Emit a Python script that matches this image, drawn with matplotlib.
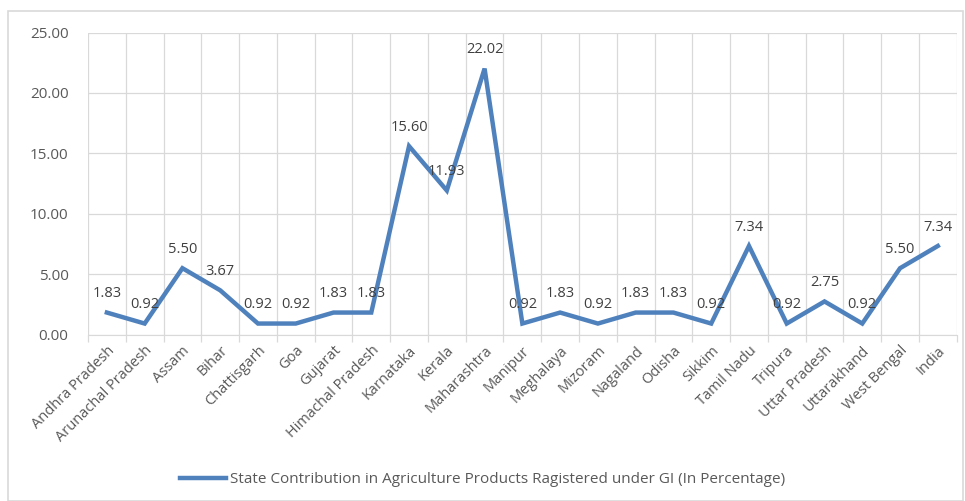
import matplotlib.pyplot as plt
from matplotlib.patches import Rectangle

states = ["Andhra Pradesh", "Arunachal Pradesh", "Assam", "Bihar", "Chattisgarh",
          "Goa", "Gujarat", "Himachal Pradesh", "Karnataka", "Kerala",
          "Maharashtra", "Manipur", "Meghalaya", "Mizoram", "Nagaland",
          "Odisha", "Sikkim", "Tamil Nadu", "Tripura", "Uttar Pradesh",
          "Uttarakhand", "West Bengal", "India"]
share = [1.83, 0.92, 5.50, 3.67, 0.92, 0.92, 1.83, 1.83, 15.60, 11.93,
         22.02, 0.92, 1.83, 0.92, 1.83, 1.83, 0.92, 7.34, 0.92, 2.75,
         0.92, 5.50, 7.34]
series_name = "State Contribution in Agriculture Products Ragistered under GI (In Percentage)"

plt.rcParams["font.family"] = ["Open Sans", "DejaVu Sans"]

fig = plt.figure(figsize=(9.65, 5.01), dpi=100)
ax = fig.add_axes([0.0912, 0.332, 0.9002, 0.603])

# chart border
fig.patches.append(Rectangle((8 / 965, 0.0), 955 / 965, 1 - 11 / 501,
                             transform=fig.transFigure, fill=False,
                             edgecolor="#d9d9d9", linewidth=1.2))

line_color = "#4f81bd"
x = list(range(len(states)))
ax.plot(x, share, color=line_color, linewidth=3.2, solid_joinstyle="miter",
        label=series_name)

for xi, v in zip(x, share):
    ax.annotate(f"{v:.2f}", (xi, v), xytext=(0, 8), textcoords="offset points",
                ha="center", va="bottom", fontsize=10.5, color="#404040")

ax.set_xlim(-0.5, len(states) - 0.5)
ax.set_ylim(0, 25)
ax.set_yticks([0, 5, 10, 15, 20, 25])
ax.set_yticklabels([f"{t:.2f}" for t in [0, 5, 10, 15, 20, 25]])

# gridlines at category boundaries
bounds = [i - 0.5 for i in range(len(states) + 1)]
for b in bounds:
    ax.axvline(b, color="#d9d9d9", linewidth=0.9, zorder=0)
ax.grid(axis="y", color="#d9d9d9", linewidth=0.9, zorder=0)
ax.set_axisbelow(True)

ax.set_xticks(x)
ax.set_xticklabels(states, rotation=45, ha="right", rotation_mode="anchor",
                   fontsize=10.5, color="#595959")
ax.tick_params(axis="x", length=0, pad=6)
ax.set_xticks(bounds, minor=True)
ax.tick_params(axis="x", which="minor", length=5, color="#d9d9d9", width=0.9)
ax.tick_params(axis="y", length=0, labelsize=11, labelcolor="#595959", pad=14)

for side in ["top", "right", "left"]:
    ax.spines[side].set_visible(False)
ax.spines["bottom"].set_color("#d9d9d9")

fig.legend(loc="lower center", bbox_to_anchor=(0.5, 0.0), frameon=False,
           fontsize=11, labelcolor="#595959", handlelength=3.0, handletextpad=0.3)

fig.savefig("out.png", dpi=100)
